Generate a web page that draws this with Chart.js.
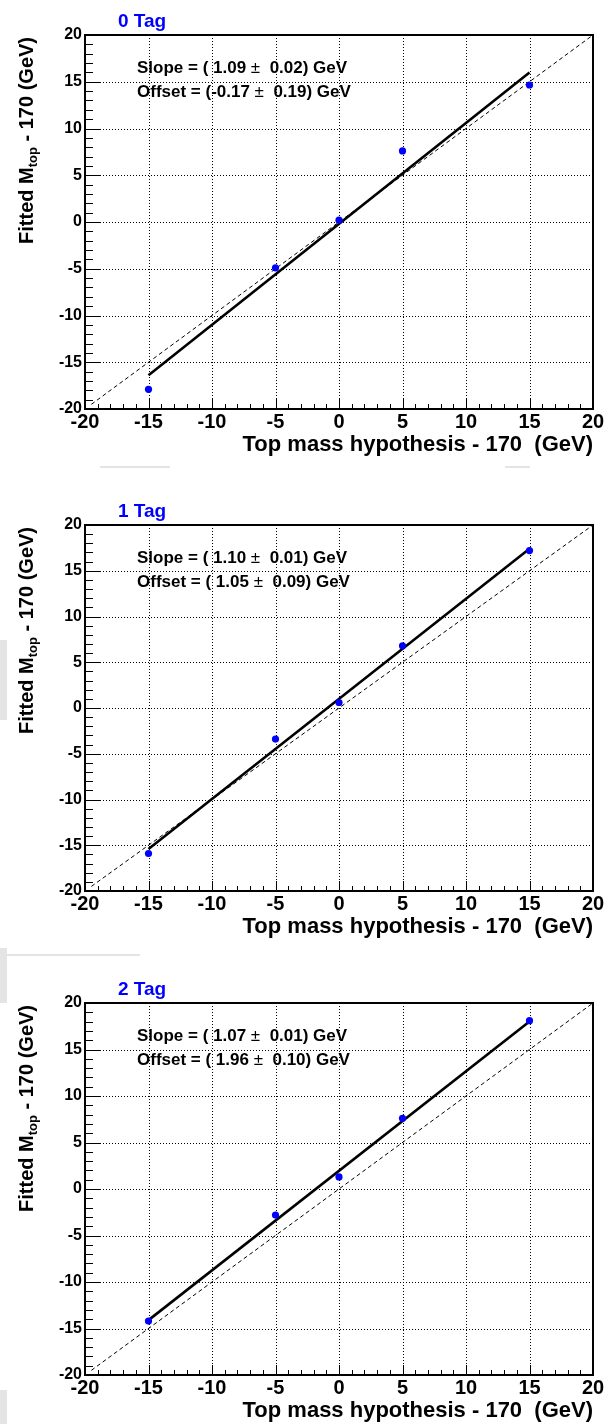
<!DOCTYPE html>
<html><head><meta charset="utf-8">
<script src="https://cdn.jsdelivr.net/npm/chart.js@4"></script>
<style>
html,body{margin:0;padding:0;background:#fff;}
body{width:608px;height:1424px;position:relative;overflow:hidden;}
canvas{position:absolute;left:0;}
.art{position:absolute;background:#e4e4e4;}
</style></head><body>
<div class="art" style="left:100px;top:466px;width:70px;height:2px;"></div>
<div class="art" style="left:505px;top:466px;width:25px;height:2px;"></div>
<div class="art" style="left:0;top:640px;width:7px;height:80px;"></div>
<div class="art" style="left:0;top:948px;width:7px;height:55px;"></div>
<div class="art" style="left:0;top:954px;width:140px;height:2px;"></div>
<div class="art" style="left:0;top:1390px;width:7px;height:34px;"></div>
<canvas id="c0"></canvas>
<canvas id="c1"></canvas>
<canvas id="c2"></canvas>
<script>
// ---- data ----
const xValues = [-15, -5, 0, 5, 15];
const fittedTag0 = [-17.9, -4.9, 0.2, 7.6, 14.65];
const fittedTag1 = [-15.9, -3.4, 0.6, 6.8, 17.2];
const fittedTag2 = [-14.2, -2.8, 1.3, 7.6, 18.1];
const fitLineX = [-15, 15];
const fitLineTag0 = [-16.4, 16.0];
const fitLineTag1 = [-15.4, 17.4];
const fitLineTag2 = [-14.1, 18.0];
const diagonalX = [-19.5, 20];
const diagonalY = [-19.5, 20];
const panelTitles = ['0 Tag', '1 Tag', '2 Tag'];
const slopeValues = ['1.09', '1.10', '1.07'];
const slopeErrors = ['0.02', '0.01', '0.01'];
const offsetValues = ['-0.17', '1.05', '1.96'];
const offsetErrors = ['0.19', '0.09', '0.10'];
const tickLabels = [-20, -15, -10, -5, 0, 5, 10, 15, 20];
const axisMin = -20, axisMax = 20, majorStep = 5, minorStep = 1;
const xAxisTitle = 'Top mass hypothesis - 170  (GeV)';

const fittedSeries = [fittedTag0, fittedTag1, fittedTag2];
const fitSeries = [fitLineTag0, fitLineTag1, fitLineTag2];

// ---- layout ----
const FONT = "'Liberation Sans', Arial, Helvetica, sans-serif";
const panels = [
  {canvasTop: 0,   canvasHeight: 470, areaTop: 35,   areaBottom: 409},
  {canvasTop: 470, canvasHeight: 485, areaTop: 525,  areaBottom: 891},
  {canvasTop: 955, canvasHeight: 469, areaTop: 1003, areaBottom: 1375}
];
const AREA_LEFT = 85, AREA_RIGHT = 593, X_AXIS_H = 30;

function fmtVal(v) { return v.startsWith('-') ? '(' + v : '( ' + v; }

function makeDecor(idx) {
  return {
    id: 'decor' + idx,
    beforeDatasetsDraw(chart) {
      const {ctx, chartArea: a, scales: {x, y}} = chart;
      ctx.save();
      ctx.strokeStyle = '#000';
      ctx.lineWidth = 1;
      ctx.setLineDash([1, 2]);
      for (let v = axisMin + majorStep; v < axisMax; v += majorStep) {
        const px = Math.round(x.getPixelForValue(v)) + 0.5;
        ctx.beginPath(); ctx.moveTo(px, a.top); ctx.lineTo(px, a.bottom); ctx.stroke();
        const py = Math.round(y.getPixelForValue(v)) + 0.5;
        ctx.beginPath(); ctx.moveTo(a.left, py); ctx.lineTo(a.right, py); ctx.stroke();
      }
      ctx.restore();
    },
    afterDatasetsDraw(chart) {
      const {ctx, chartArea: a, scales: {x, y}} = chart;
      ctx.save();
      ctx.strokeStyle = '#000';
      ctx.setLineDash([]);
      // ticks
      ctx.lineWidth = 1;
      for (let v = axisMin; v <= axisMax; v += minorStep) {
        const major = (v % majorStep) === 0;
        const py = Math.round(y.getPixelForValue(v)) + 0.5;
        ctx.beginPath(); ctx.moveTo(a.left, py); ctx.lineTo(a.left + (major ? 15 : 8), py); ctx.stroke();
        const px = Math.round(x.getPixelForValue(v)) + 0.5;
        ctx.beginPath(); ctx.moveTo(px, a.bottom); ctx.lineTo(px, a.bottom - (major ? 10 : 5)); ctx.stroke();
      }
      // frame
      ctx.lineWidth = 2;
      ctx.strokeRect(a.left, a.top, a.right - a.left, a.bottom - a.top);

      // panel title
      ctx.fillStyle = '#0000ff';
      ctx.font = 'bold 19px ' + FONT;
      ctx.textAlign = 'left';
      ctx.textBaseline = 'alphabetic';
      ctx.fillText(panelTitles[idx], 118, a.top - 8);

      // fit text
      ctx.fillStyle = '#000';
      const lines = [
        ['Slope = ' + fmtVal(slopeValues[idx]) + ' ', '  ' + slopeErrors[idx] + ') GeV'],
        ['Offset = ' + fmtVal(offsetValues[idx]) + ' ', '  ' + offsetErrors[idx] + ') GeV']
      ];
      const baselines = [a.top + 38, a.top + 62];
      lines.forEach((ln, i) => {
        let xx = a.left + 52;
        ctx.font = 'bold 17px ' + FONT;
        ctx.fillText(ln[0], xx, baselines[i]);
        xx += ctx.measureText(ln[0]).width;
        ctx.font = '17px ' + FONT;
        ctx.fillText('\u00B1', xx, baselines[i]);
        xx += ctx.measureText('\u00B1').width;
        ctx.font = 'bold 17px ' + FONT;
        ctx.fillText(ln[1], xx, baselines[i]);
      });

      // x axis title
      ctx.font = 'bold 22px ' + FONT;
      ctx.textAlign = 'right';
      ctx.fillText(xAxisTitle, a.right, a.bottom + 42);

      // y axis title (rotated)
      const mainA = 'Fitted M', sub = 'top', mainB = ' - 170 (GeV)';
      ctx.font = 'bold 20px ' + FONT;
      const wA = ctx.measureText(mainA).width, wB = ctx.measureText(mainB).width;
      ctx.font = 'bold 13px ' + FONT;
      const wS = ctx.measureText(sub).width;
      const total = wA + wS + wB;
      ctx.translate(33, a.top + 2 + total);
      ctx.rotate(-Math.PI / 2);
      ctx.textAlign = 'left';
      ctx.font = 'bold 20px ' + FONT;
      ctx.fillText(mainA, 0, 0);
      ctx.font = 'bold 13px ' + FONT;
      ctx.fillText(sub, wA, 4);
      ctx.font = 'bold 20px ' + FONT;
      ctx.fillText(mainB, wA + wS, 0);
      ctx.restore();
    }
  };
}

panels.forEach((p, idx) => {
  const cv = document.getElementById('c' + idx);
  cv.style.top = p.canvasTop + 'px';
  cv.width = 608; cv.height = p.canvasHeight;
  cv.style.width = '608px'; cv.style.height = p.canvasHeight + 'px';

  const pts = xValues.map((xv, i) => ({x: xv, y: fittedSeries[idx][i]}));
  const fit = fitLineX.map((xv, i) => ({x: xv, y: fitSeries[idx][i]}));
  const diag = diagonalX.map((xv, i) => ({x: xv, y: diagonalY[i]}));

  new Chart(cv, {
    type: 'scatter',
    data: {
      datasets: [
        {data: pts, backgroundColor: '#0000ff', borderColor: '#0000ff', borderWidth: 0, pointRadius: 3.6, showLine: false},
        {data: fit, borderColor: '#000', borderWidth: 2.6, pointRadius: 0, showLine: true, tension: 0},
        {data: diag, borderColor: '#000', borderWidth: 1, borderDash: [4, 3], pointRadius: 0, showLine: true, tension: 0}
      ]
    },
    options: {
      responsive: false,
      devicePixelRatio: 1,
      animation: false,
      events: [],
      layout: {padding: {left: 0, right: 608 - AREA_RIGHT, top: p.areaTop - p.canvasTop,
        bottom: p.canvasTop + p.canvasHeight - p.areaBottom - X_AXIS_H}},
      plugins: {legend: {display: false}, tooltip: {enabled: false}, title: {display: false}},
      scales: {
        x: {
          type: 'linear', min: axisMin, max: axisMax,
          afterBuildTicks: s => { s.ticks = tickLabels.map(v => ({value: v})); },
          afterFit: s => { s.height = X_AXIS_H; },
          grid: {display: false, drawTicks: false},
          border: {display: false},
          ticks: {autoSkip: false, maxRotation: 0, padding: 1, color: '#000',
            font: {family: FONT, size: 20, weight: 'bold'}}
        },
        y: {
          type: 'linear', min: axisMin, max: axisMax,
          afterBuildTicks: s => { s.ticks = tickLabels.map(v => ({value: v})); },
          afterFit: s => { s.width = AREA_LEFT; },
          grid: {display: false, drawTicks: false},
          border: {display: false},
          ticks: {autoSkip: false, padding: 3, color: '#000',
            font: {family: FONT, size: 16, weight: 'bold'}}
        }
      }
    },
    plugins: [makeDecor(idx)]
  });
});
</script>
</body></html>
